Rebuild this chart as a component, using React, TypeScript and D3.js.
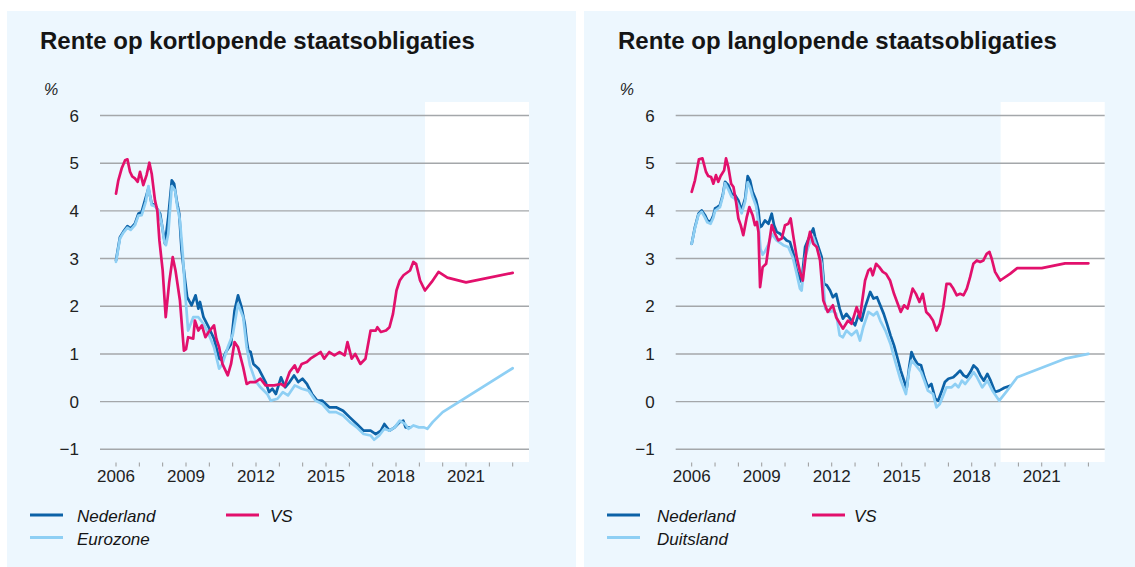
import * as d3 from 'd3';

type Pt = [number, number];

const yTicks = [-1, 0, 1, 2, 3, 4, 5, 6];
const yearTicks = d3.range(2006, 2024);
const yearLabels = [2006, 2009, 2012, 2015, 2018, 2021];
const forecastStart = 2019.24;

// kortlopend (short-term)
const kortNL: Pt[] = [[2006.00,2.96],[2006.17,3.45],[2006.31,3.56],[2006.49,3.68],[2006.63,3.63],[2006.81,3.73],[2006.96,3.94],[2007.10,3.98],[2007.24,4.22],[2007.39,4.47],[2007.53,4.15],[2007.67,4.12],[2007.89,3.94],[2008.03,3.52],[2008.10,3.31],[2008.24,3.87],[2008.39,4.64],[2008.49,4.57],[2008.60,4.22],[2008.71,3.94],[2008.81,3.17],[2008.96,2.54],[2009.05,2.19],[2009.24,2.02],[2009.41,2.23],[2009.53,1.95],[2009.60,2.09],[2009.75,1.77],[2009.97,1.56],[2010.20,1.32],[2010.42,0.90],[2010.56,0.86],[2010.71,1.04],[2010.93,1.21],[2011.08,1.91],[2011.23,2.23],[2011.38,1.98],[2011.52,1.63],[2011.60,1.28],[2011.67,1.07],[2011.77,1.04],[2011.89,0.79],[2012.11,0.69],[2012.26,0.55],[2012.41,0.41],[2012.56,0.20],[2012.70,0.27],[2012.85,0.16],[2013.07,0.51],[2013.25,0.30],[2013.44,0.41],[2013.63,0.55],[2013.81,0.41],[2013.99,0.48],[2014.18,0.37],[2014.40,0.16],[2014.62,0.02],[2014.84,0.02],[2015.14,-0.12],[2015.43,-0.12],[2015.73,-0.19],[2016.02,-0.33],[2016.32,-0.47],[2016.61,-0.61],[2016.91,-0.61],[2017.13,-0.68],[2017.35,-0.61],[2017.50,-0.47],[2017.72,-0.61],[2017.94,-0.54],[2018.16,-0.43],[2018.31,-0.40],[2018.41,-0.54],[2018.61,-0.54]];
const kortEZ: Pt[] = [[2006.00,2.93],[2006.17,3.42],[2006.31,3.54],[2006.49,3.65],[2006.63,3.60],[2006.81,3.70],[2006.96,3.90],[2007.10,3.91],[2007.28,4.20],[2007.39,4.52],[2007.53,4.12],[2007.67,4.10],[2007.82,4.01],[2007.96,3.73],[2008.06,3.38],[2008.14,3.28],[2008.24,3.52],[2008.39,4.52],[2008.53,4.43],[2008.63,4.08],[2008.74,3.80],[2008.86,3.10],[2008.96,2.30],[2009.09,1.49],[2009.31,1.77],[2009.53,1.77],[2009.75,1.63],[2009.97,1.42],[2010.20,1.14],[2010.42,0.69],[2010.56,0.79],[2010.79,1.14],[2011.01,1.42],[2011.23,2.05],[2011.45,1.77],[2011.60,1.14],[2011.74,0.76],[2011.97,0.44],[2012.19,0.30],[2012.48,0.16],[2012.63,0.02],[2012.92,0.06],[2013.15,0.20],[2013.37,0.13],[2013.66,0.34],[2013.96,0.27],[2014.25,0.23],[2014.55,0.02],[2014.84,-0.05],[2015.14,-0.22],[2015.43,-0.22],[2015.73,-0.29],[2016.02,-0.43],[2016.32,-0.54],[2016.61,-0.68],[2016.91,-0.71],[2017.06,-0.80],[2017.28,-0.71],[2017.50,-0.57],[2017.72,-0.61],[2017.94,-0.54],[2018.16,-0.40],[2018.39,-0.47],[2018.53,-0.57],[2018.75,-0.50],[2018.98,-0.54],[2019.20,-0.54],[2019.34,-0.57],[2019.57,-0.43],[2020.00,-0.22],[2023.00,0.70]];
const kortVS: Pt[] = [[2006.00,4.36],[2006.10,4.64],[2006.25,4.90],[2006.39,5.06],[2006.49,5.08],[2006.60,4.82],[2006.70,4.72],[2006.81,4.68],[2006.93,4.61],[2007.03,4.82],[2007.17,4.54],[2007.31,4.75],[2007.43,5.01],[2007.53,4.78],[2007.67,4.22],[2007.77,4.01],[2007.86,3.38],[2008.00,2.75],[2008.13,1.77],[2008.28,2.50],[2008.43,3.03],[2008.55,2.75],[2008.74,2.12],[2008.91,1.07],[2009.00,1.10],[2009.09,1.35],[2009.31,1.32],[2009.38,1.70],[2009.53,1.49],[2009.68,1.60],[2009.83,1.35],[2009.97,1.46],[2010.20,1.60],[2010.30,1.32],[2010.42,1.14],[2010.56,0.79],[2010.79,0.55],[2010.93,0.79],[2011.08,1.25],[2011.23,1.14],[2011.45,0.72],[2011.60,0.37],[2011.74,0.41],[2011.97,0.41],[2012.19,0.48],[2012.41,0.34],[2012.78,0.34],[2013.07,0.37],[2013.22,0.32],[2013.44,0.62],[2013.66,0.76],[2013.78,0.62],[2013.96,0.79],[2014.18,0.83],[2014.33,0.90],[2014.55,0.97],[2014.77,1.04],[2014.92,0.90],[2015.14,1.04],[2015.36,0.97],[2015.58,1.04],[2015.80,0.97],[2015.92,1.25],[2016.10,0.90],[2016.25,1.00],[2016.47,0.79],[2016.69,0.90],[2016.91,1.49],[2017.13,1.49],[2017.20,1.56],[2017.35,1.46],[2017.57,1.49],[2017.72,1.56],[2017.87,1.84],[2018.02,2.33],[2018.16,2.54],[2018.32,2.65],[2018.60,2.75],[2018.74,2.93],[2018.86,2.89],[2019.03,2.54],[2019.24,2.33],[2019.53,2.51],[2019.82,2.72],[2020.20,2.60],[2021.00,2.50],[2023.00,2.70]];

// langlopend (long-term)
const langNL: Pt[] = [[2006.00,3.31],[2006.14,3.66],[2006.29,3.94],[2006.43,4.01],[2006.57,3.91],[2006.67,3.80],[2006.81,3.77],[2006.93,3.91],[2007.00,4.05],[2007.10,4.08],[2007.21,4.12],[2007.33,4.33],[2007.43,4.61],[2007.57,4.54],[2007.71,4.36],[2007.86,4.33],[2008.00,4.22],[2008.14,4.01],[2008.29,4.26],[2008.40,4.73],[2008.50,4.64],[2008.61,4.40],[2008.76,4.22],[2008.86,4.01],[2008.93,3.66],[2009.00,3.68],[2009.14,3.80],[2009.29,3.73],[2009.43,3.94],[2009.53,3.70],[2009.64,3.56],[2009.79,3.52],[2009.93,3.45],[2010.07,3.38],[2010.21,3.35],[2010.36,3.10],[2010.50,2.75],[2010.64,2.58],[2010.71,2.51],[2010.86,3.24],[2011.04,3.45],[2011.21,3.63],[2011.29,3.45],[2011.43,3.24],[2011.57,3.03],[2011.67,2.47],[2011.79,2.44],[2011.93,2.33],[2012.05,2.19],[2012.19,2.26],[2012.34,1.95],[2012.48,1.74],[2012.63,1.84],[2012.85,1.70],[2013.00,1.60],[2013.14,1.81],[2013.28,1.70],[2013.43,1.98],[2013.65,2.30],[2013.79,2.16],[2013.94,2.19],[2014.08,2.02],[2014.23,1.84],[2014.37,1.63],[2014.52,1.39],[2014.67,1.18],[2014.81,0.93],[2014.96,0.65],[2015.10,0.44],[2015.21,0.27],[2015.32,0.72],[2015.42,1.04],[2015.54,0.90],[2015.68,0.79],[2015.83,0.76],[2015.97,0.51],[2016.12,0.30],[2016.27,0.37],[2016.44,0.06],[2016.56,0.02],[2016.70,0.20],[2016.85,0.41],[2017.00,0.48],[2017.21,0.51],[2017.36,0.58],[2017.50,0.65],[2017.65,0.55],[2017.79,0.51],[2017.94,0.62],[2018.08,0.76],[2018.23,0.69],[2018.37,0.55],[2018.52,0.44],[2018.67,0.58],[2018.81,0.44],[2019.00,0.20],[2019.18,0.23],[2019.40,0.29],[2019.65,0.33]];
const langDE: Pt[] = [[2006.00,3.31],[2006.14,3.64],[2006.29,3.92],[2006.43,3.98],[2006.57,3.86],[2006.67,3.76],[2006.81,3.73],[2006.93,3.86],[2007.00,4.00],[2007.10,4.04],[2007.21,4.08],[2007.33,4.30],[2007.43,4.58],[2007.57,4.45],[2007.71,4.30],[2007.86,4.25],[2008.00,4.12],[2008.14,3.95],[2008.29,4.20],[2008.40,4.60],[2008.50,4.50],[2008.61,4.30],[2008.76,4.10],[2008.86,3.75],[2008.95,3.20],[2009.04,3.08],[2009.14,3.15],[2009.29,3.30],[2009.43,3.52],[2009.64,3.38],[2009.93,3.28],[2010.14,3.24],[2010.33,3.03],[2010.50,2.68],[2010.64,2.37],[2010.71,2.33],[2010.86,3.03],[2011.04,3.31],[2011.21,3.45],[2011.43,3.14],[2011.57,2.89],[2011.67,2.33],[2011.72,1.95],[2011.90,1.88],[2012.05,1.91],[2012.19,1.84],[2012.34,1.39],[2012.48,1.35],[2012.63,1.49],[2012.85,1.39],[2013.07,1.49],[2013.21,1.28],[2013.35,1.56],[2013.57,1.88],[2013.79,1.81],[2013.94,1.88],[2014.08,1.70],[2014.30,1.49],[2014.52,1.21],[2014.67,0.93],[2014.81,0.69],[2014.96,0.44],[2015.18,0.16],[2015.32,0.65],[2015.42,0.86],[2015.61,0.76],[2015.83,0.62],[2015.97,0.44],[2016.12,0.23],[2016.34,0.16],[2016.49,-0.12],[2016.63,-0.05],[2016.78,0.13],[2016.92,0.30],[2017.14,0.30],[2017.29,0.37],[2017.43,0.30],[2017.58,0.44],[2017.72,0.37],[2017.94,0.51],[2018.08,0.62],[2018.23,0.51],[2018.45,0.30],[2018.67,0.44],[2018.89,0.23],[2019.18,0.02],[2019.47,0.20],[2019.95,0.51],[2022.00,0.90],[2023.00,1.00]];
const langVS: Pt[] = [[2006.00,4.40],[2006.14,4.64],[2006.31,5.08],[2006.46,5.10],[2006.61,4.82],[2006.71,4.73],[2006.83,4.71],[2006.93,4.57],[2007.04,4.75],[2007.14,4.61],[2007.24,4.73],[2007.39,4.85],[2007.47,5.10],[2007.57,4.92],[2007.69,4.57],[2007.79,4.50],[2007.90,4.19],[2008.00,3.84],[2008.10,3.70],[2008.21,3.49],[2008.36,3.87],[2008.47,4.08],[2008.61,3.91],[2008.71,3.70],[2008.79,3.77],[2008.86,3.56],[2008.93,2.40],[2009.04,2.82],[2009.19,2.89],[2009.29,3.24],[2009.43,3.70],[2009.57,3.52],[2009.71,3.38],[2009.86,3.42],[2010.00,3.70],[2010.14,3.73],[2010.24,3.84],[2010.36,3.45],[2010.50,3.03],[2010.64,2.72],[2010.76,2.54],[2010.93,3.24],[2011.07,3.56],[2011.21,3.31],[2011.36,3.24],[2011.50,2.96],[2011.64,2.12],[2011.83,1.88],[2012.05,2.02],[2012.19,1.77],[2012.48,1.53],[2012.70,1.70],[2012.85,1.63],[2013.07,1.98],[2013.21,1.77],[2013.43,2.54],[2013.57,2.75],[2013.67,2.79],[2013.76,2.65],[2013.90,2.89],[2014.04,2.82],[2014.19,2.72],[2014.33,2.68],[2014.50,2.54],[2014.67,2.26],[2014.96,1.88],[2015.10,2.02],[2015.25,1.95],[2015.47,2.37],[2015.61,2.26],[2015.76,2.09],[2015.90,2.26],[2016.05,1.88],[2016.19,1.81],[2016.34,1.70],[2016.49,1.49],[2016.63,1.63],[2016.78,1.98],[2016.92,2.47],[2017.07,2.47],[2017.21,2.37],[2017.36,2.23],[2017.50,2.26],[2017.65,2.23],[2017.79,2.37],[2017.93,2.61],[2018.07,2.89],[2018.22,2.96],[2018.36,2.93],[2018.50,2.96],[2018.64,3.10],[2018.76,3.14],[2018.86,2.99],[2019.00,2.72],[2019.22,2.54],[2019.64,2.68],[2019.95,2.80],[2021.00,2.80],[2022.00,2.90],[2023.00,2.90]];

const colors = { nl: '#0c62a7', eu: '#8ecff4', vs: '#e2106c' };
const FONT = '"Liberation Sans", Arial, Helvetica, sans-serif';

type Series = { label: string; color: string; data: Pt[] };

function Chart({ dx, panelX, panelW, titleX, title, light, dark, us, legendCols }: {
  dx: number; panelX: number; panelW: number; titleX: number; title: string;
  light: Series; dark: Series; us: Series; legendCols: [number, number][];
}) {
  const x = d3.scaleLinear().domain([2006, 2023]).range([116 + dx, 512.7 + dx]);
  const y = d3.scaleLinear().domain([-1, 6]).range([449.3, 115.5]);
  const line = d3.line<Pt>().x(d => x(d[0])).y(d => y(d[1]));
  const gx0 = 100 + dx, gx1 = 529 + dx;

  const legendItems: [Series, number, number][] = [
    [dark, 0, 0], [light, 0, 1], [us, 1, 0],
  ];

  return (
    <g fontFamily={FONT}>
      <rect x={panelX} y={11} width={panelW} height={556} fill="#edf7fe" />
      <rect x={x(forecastStart)} y={102} width={gx1 - x(forecastStart)} height={360} fill="#ffffff" />
      <text x={titleX} y={49} fontSize={24} fontWeight="bold" fill="#151515">{title}</text>
      <text x={44 + dx} y={95} fontSize={16} fontStyle="italic" fill="#222">%</text>
      {yTicks.map(t => (
        <g key={t}>
          <line x1={gx0} x2={gx1} y1={y(t)} y2={y(t)} stroke="#a4a7aa" strokeWidth={1.4} />
          <text x={79 + dx} y={y(t)} dy="0.36em" textAnchor="end" fontSize={17} fill="#222">
            {t < 0 ? `\u2212${-t}` : t}
          </text>
        </g>
      ))}
      {yearTicks.map(t => (
        <line key={t} x1={x(t)} x2={x(t)} y1={462.5} y2={466.5} stroke="#9a9a9a" strokeWidth={1} />
      ))}
      {yearLabels.map(t => (
        <text key={t} x={x(t)} y={482} textAnchor="middle" fontSize={17} fill="#222">{t}</text>
      ))}
      {[dark, light, us].map(s => (
        <path key={s.label} d={line(s.data) ?? ''} fill="none" stroke={s.color}
          strokeWidth={2.7} strokeLinejoin="round" strokeLinecap="round" />
      ))}
      {legendItems.map(([s, col, row]) => {
        const [lx, tx] = legendCols[col];
        const ly = 515 + row * 22.5;
        return (
          <g key={s.label}>
            <line x1={lx} x2={lx + 33} y1={ly} y2={ly} stroke={s.color} strokeWidth={3} />
            <text x={tx} y={521.5 + row * 23.5} fontSize={17} fontStyle="italic" fill="#151515">{s.label}</text>
          </g>
        );
      })}
    </g>
  );
}

export default function App() {
  return (
    <svg width={1135} height={567} style={{ position: 'absolute', left: 0, top: 0, background: '#fff' }}>
      <Chart dx={0} panelX={7} panelW={569} titleX={40} title="Rente op kortlopende staatsobligaties"
        light={{ label: 'Eurozone', color: colors.eu, data: kortEZ }}
        dark={{ label: 'Nederland', color: colors.nl, data: kortNL }}
        us={{ label: 'VS', color: colors.vs, data: kortVS }}
        legendCols={[[30, 77], [226, 270]]} />
      <Chart dx={575.7} panelX={584} panelW={551} titleX={618} title="Rente op langlopende staatsobligaties"
        light={{ label: 'Duitsland', color: colors.eu, data: langDE }}
        dark={{ label: 'Nederland', color: colors.nl, data: langNL }}
        us={{ label: 'VS', color: colors.vs, data: langVS }}
        legendCols={[[607, 657], [812, 854]]} />
    </svg>
  );
}
